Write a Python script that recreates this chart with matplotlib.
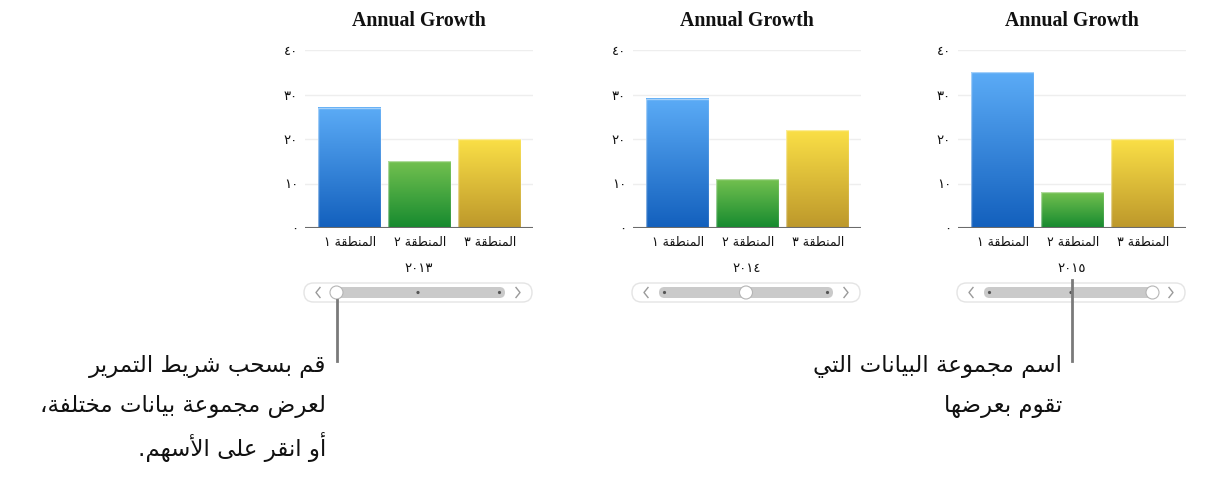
import numpy as np
import matplotlib
matplotlib.use('Agg')
import matplotlib.pyplot as plt
from matplotlib.patches import FancyBboxPatch, Circle
from matplotlib.colors import to_rgb

plt.rcParams['font.family'] = ['DejaVu Sans']

# data
years = [2013, 2014, 2015]
regions = ['المنطقة ١', 'المنطقة ٢', 'المنطقة ٣']
values = [[27, 15, 20],
          [29, 11, 22],
          [35, 8, 20]]
yticks_v = [0, 10, 20, 30, 40]
title = 'Annual Growth'
note_left = ['قم بسحب شريط التمرير', 'لعرض مجموعة بيانات مختلفة،', 'أو انقر على الأسهم.']
note_right = ['اسم مجموعة البيانات التي', 'تقوم بعرضها']

bar_top = ['#5babf6', '#72c04f', '#fadf46']
bar_bot = ['#1360bd', '#168a2f', '#bd982b']

# --- minimal arabic shaping (matplotlib has no bidi / joining) ---
JOIN4 = {'ب': 0xFE8F, 'ت': 0xFE95, 'ج': 0xFE9D, 'ح': 0xFEA1, 'خ': 0xFEA5,
         'س': 0xFEB1, 'ش': 0xFEB5, 'ض': 0xFEBD, 'ط': 0xFEC1, 'ع': 0xFEC9,
         'ف': 0xFED1, 'ق': 0xFED5, 'ل': 0xFEDD, 'م': 0xFEE1, 'ن': 0xFEE5,
         'ه': 0xFEE9, 'ي': 0xFEF1}
JOIN2 = {'ا': 0xFE8D, 'أ': 0xFE83, 'ة': 0xFE93, 'ر': 0xFEAD, 'و': 0xFEED, 'ى': 0xFEEF}
LAMALEF = {'ا': 0xFEFB, 'أ': 0xFEF7}


def shape_word(w):
    if all('٠' <= c <= '٩' for c in w):
        return w
    units = []
    i = 0
    while i < len(w):
        if w[i] == 'ل' and i + 1 < len(w) and w[i+1] in LAMALEF:
            units.append(('LA', LAMALEF[w[i+1]]))
            i += 2
        else:
            units.append((w[i], None))
            i += 1
    out = []
    for j, (c, lig) in enumerate(units):
        prev = units[j-1][0] if j > 0 else None
        nxt = units[j+1][0] if j + 1 < len(units) else None
        jp = prev in JOIN4
        if lig:
            out.append(chr(lig + (1 if jp else 0)))
        elif c in JOIN4:
            jn = nxt in JOIN4 or nxt in JOIN2 or nxt == 'LA'
            form = 3 if (jp and jn) else 1 if jp else 2 if jn else 0
            out.append(chr(JOIN4[c] + form))
        elif c in JOIN2:
            out.append(chr(JOIN2[c] + (1 if jp else 0)))
        else:
            out.append(c)
    return ''.join(reversed(out))


def rtl(s):
    return ' '.join(shape_word(w) for w in reversed(s.split(' ')))


def ar_num(n):
    return ''.join(chr(0x660 + int(d)) for d in str(n))


W, H = 1208, 497
fig = plt.figure(figsize=(W/100, H/100), dpi=100)

# overlay in pixel coords for slider / callouts
ov = fig.add_axes([0, 0, 1, 1])
ov.set_xlim(0, W)
ov.set_ylim(H, 0)
ov.axis('off')

lefts = [305, 633, 958]
ax_w = 228
top, base = 50, 228
x = np.arange(len(regions))
bw = 0.9
grad = np.linspace(0, 1, 64)[:, None]

for k, yr in enumerate(years):
    L = lefts[k]
    ax = fig.add_axes([L/W, 1-base/H, ax_w/W, (base-top)/H])
    ax.set_facecolor('none')
    for s in ax.spines.values():
        s.set_visible(False)
    for y in yticks_v[1:]:
        ax.axhline(y, color='#eeeeee', lw=1, zorder=0)
    for i, v in enumerate(values[k]):
        c0 = np.array(to_rgb(bar_top[i]))
        c1 = np.array(to_rgb(bar_bot[i]))
        img = (c0[None, None, :] * (1-grad[:, :, None]) + c1[None, None, :] * grad[:, :, None])
        ax.imshow(img, extent=(x[i]-bw/2, x[i]+bw/2, 0, v), aspect='auto',
                  origin='upper', zorder=2, interpolation='bilinear')
    ax.bar(x, values[k], width=bw, facecolor='none', edgecolor=(1, 1, 1, 0.45), lw=1, zorder=3)
    ax.axhline(0, color='#6b6b6b', lw=1.5, zorder=4)
    ax.set_xlim(-0.64, 2.62)
    ax.set_ylim(0, 40)
    ax.set_yticks(yticks_v)
    ax.set_yticklabels([ar_num(v) for v in yticks_v], fontsize=9.5, color='#111111')
    ax.set_xticks(x)
    ax.set_xticklabels([rtl(r) for r in regions], fontsize=9, color='#111111')
    ax.tick_params(length=0)
    ax.tick_params(axis='y', pad=5)
    ax.tick_params(axis='x', pad=6)
    ax.set_xlabel(ar_num(yr), fontsize=9.5, color='#111111', labelpad=9)
    fig.text((L + ax_w/2)/W, 1-21/H, title, ha='center', va='center',
             fontsize=14.3, fontweight='bold', family='Liberation Serif', color='#111111')

    # slider
    ox0, ox1 = L - 1, L + ax_w - 1
    ov.add_patch(FancyBboxPatch((ox0, 283), ox1-ox0, 19, boxstyle='round,pad=0,rounding_size=9.5',
                                fc='white', ec='#e4e4e4', lw=1))
    tx0, tx1 = L + 26, L + ax_w - 28
    ov.add_patch(FancyBboxPatch((tx0, 287), tx1-tx0, 11, boxstyle='round,pad=0,rounding_size=5.5',
                                fc='#cacaca', ec='none'))
    ov.plot([ox0+16, ox0+12, ox0+16], [287.5, 292.5, 297.5], color='#9a9a9a', lw=1)
    ov.plot([ox1-16, ox1-12, ox1-16], [287.5, 292.5, 297.5], color='#9a9a9a', lw=1)
    pos = [tx0 + 5.5 + j*(tx1-tx0-11)/2 for j in range(len(years))]
    for j, p in enumerate(pos):
        if j == k:
            ov.add_patch(Circle((p, 292.5), 6.5, fc='white', ec='#b5b5b5', lw=0.8, zorder=5))
        else:
            ov.add_patch(Circle((p, 292.5), 1.6, fc='#555555', ec='none', zorder=5))

# callouts
ov.plot([337, 337], [300, 361], color='#7a7a7a', lw=2, zorder=6)
ov.plot([1072, 1072], [280, 361], color='#7a7a7a', lw=2, zorder=6)

for i, line in enumerate(note_left):
    ov.text(326, 367 + 40*i, rtl(line), ha='right', va='center', fontsize=16.5, color='#111111')
for i, line in enumerate(note_right):
    ov.text(1062, 367 + 40*i, rtl(line), ha='right', va='center', fontsize=16.5, color='#111111')

fig.savefig('out.png', dpi=100)
